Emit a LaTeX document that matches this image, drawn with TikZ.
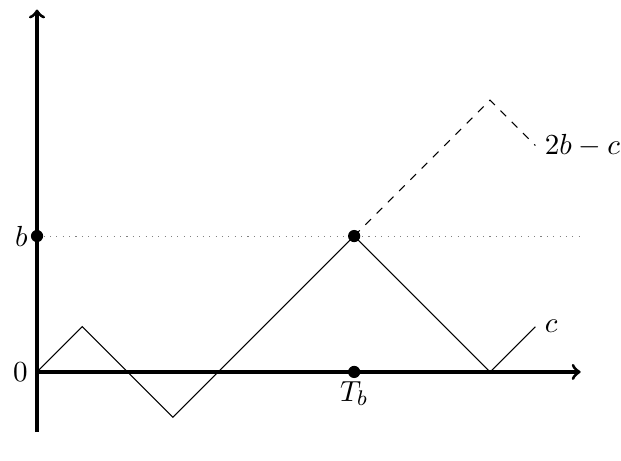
\documentclass[tikz,border=0pt]{standalone}
\begin{document}
\begin{tikzpicture}[x=0.6cm, y=0.6cm,
    font=\fontsize{11}{13}\selectfont,
    axis/.style={very thick, ->},
    pt/.style={circle, fill, inner sep=0pt, minimum size=4.6pt}]
    \useasboundingbox (-0.817,-1.965) rectangle (12.89,8.21);

    % axes
    \coordinate (ybot) at (0,-1.33);
    \coordinate (ytop) at (0,8);
    \coordinate (o) at (0,0);
    \coordinate (xend) at (12,0);
    \coordinate (bend) at (12,3);
    \draw[axis] (o) -- (xend);
    \draw[axis] (ybot) -- (ytop);
    \node[left] at (o) {$0$};

    % level b
    \node[pt] (b) at (0,3) {};
    \node[left] at (b) {$b$};
    \draw[dotted, gray] (b) -- (bend);

    % path
    \coordinate (p1) at (1,1);
    \coordinate (p2) at (3,-1);
    \node[pt] (hit) at (7,3) {};
    \coordinate (p4) at (10,0);
    \coordinate (c) at (11,1);
    \draw (o) -- (p1) -- (p2) -- (hit.center) -- (p4) -- (c);
    \node[right] at (c) {$c$};

    % reflected path
    \coordinate (q1) at (10,6);
    \coordinate (rc) at (11,5);
    \draw[dashed] (hit.center) -- (q1) -- (rc);
    \node[right] at (rc) {$2b-c$};

    % hitting time
    \node[pt] (tb) at (7,0) {};
    \node[below] at (tb) {$T_b$};
\end{tikzpicture}
\end{document}
